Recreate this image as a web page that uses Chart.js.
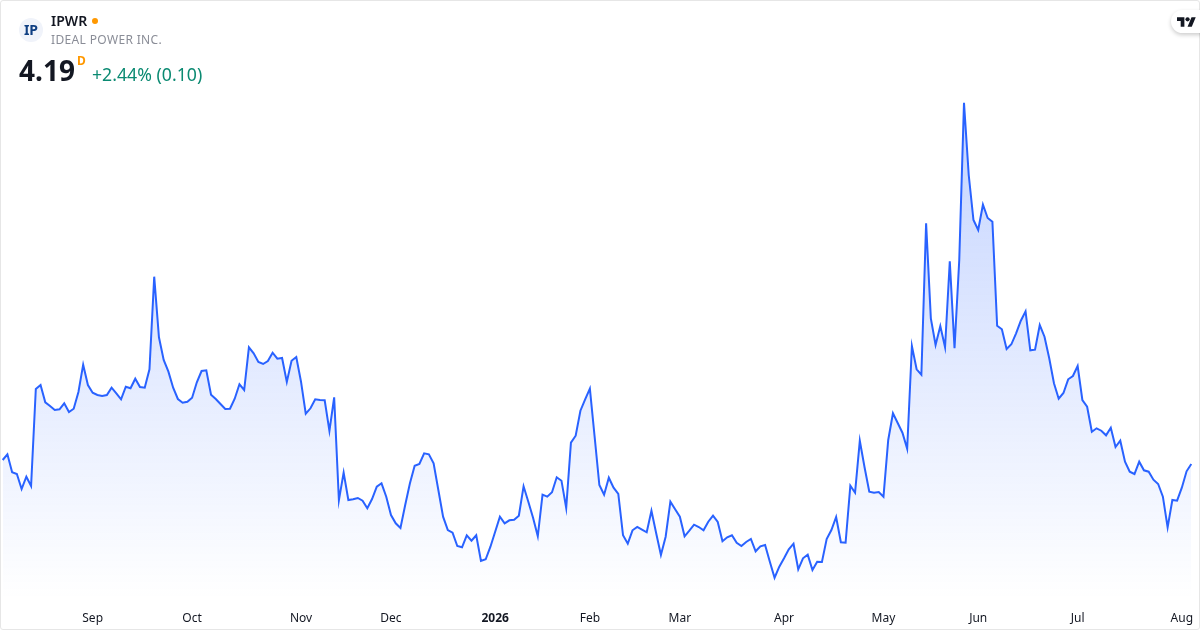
<!DOCTYPE html>
<html>
<head>
<meta charset="utf-8">
<script src="https://cdn.jsdelivr.net/npm/chart.js@4"></script>
<style>
html,body{margin:0;padding:0;background:#fff;}
#wrap{position:relative;width:1200px;height:630px;overflow:hidden;font-family:"Noto Sans",sans-serif;}
canvas{position:absolute;left:0;top:0;}
#frame{position:absolute;left:0;top:0;width:1198px;height:628px;border:1px solid #e6e6e6;border-radius:3px;pointer-events:none;}
.t{position:absolute;white-space:nowrap;line-height:1;}
#logo{position:absolute;left:19px;top:18px;width:24px;height:24px;border-radius:50%;background:#f0f3fa;color:#0f3f82;font-weight:700;font-size:14px;line-height:24px;text-align:center;}
#dot{position:absolute;left:92px;top:18px;width:6px;height:6px;border-radius:50%;background:#ff9800;}
#pill{position:absolute;left:1171px;top:10px;width:40px;height:23px;border-radius:12px;background:#fff;box-shadow:0 2px 4px rgba(0,0,0,.2);}
#tv{position:absolute;left:1177px;top:15px;}
</style>
</head>
<body>
<div id="wrap">
<canvas id="c" width="1200" height="630"></canvas>
<div id="frame"></div>
<div id="logo">IP</div>
<div class="t" style="left:51px;top:14px;font-size:14px;font-weight:600;color:#131722;">IPWR</div>
<div id="dot"></div>
<div class="t" style="left:51px;top:34px;font-size:12px;color:#8a8d97;letter-spacing:.35px;">IDEAL POWER INC.</div>
<div class="t" style="left:19px;top:56px;font-size:28px;font-weight:700;color:#131722;">4.19</div>
<div class="t" style="left:77px;top:55px;font-size:12px;font-weight:700;color:#ff9800;">D</div>
<div class="t" style="left:92px;top:66px;font-size:17.7px;color:#0b8a72;">+2.44% (0.10)</div>
<div id="pill"></div>
<svg id="tv" width="19" height="15" viewBox="0 0 36 28"><path fill="#131722" d="M14 22H7V11H0V4h14v18zM28 22h-8l7.5-18h8L28 22z"/><circle fill="#131722" cx="20" cy="8" r="4"/></svg>
</div>
<script>
const closes = [4.23,4.287,4.107,4.09,3.94,4.063,3.97,4.94,4.98,4.807,4.77,4.73,4.737,4.797,4.71,4.743,4.91,5.183,4.98,4.903,
4.88,4.87,4.88,4.953,4.897,4.837,4.963,4.947,5.043,4.96,4.953,5.137,6.063,5.457,5.23,5.113,4.953,4.84,4.803,4.813,
4.853,5.007,5.12,5.127,4.883,4.84,4.79,4.74,4.743,4.843,4.987,4.93,5.357,5.297,5.21,5.19,5.22,5.303,5.243,5.25,
5.01,5.223,5.26,5.013,4.693,4.747,4.837,4.83,4.827,4.52,4.857,3.827,4.103,3.83,3.837,3.85,3.823,3.747,3.84,3.963,
3.997,3.863,3.68,3.597,3.55,3.78,3.997,4.173,4.19,4.297,4.287,4.197,3.93,3.663,3.53,3.503,3.37,3.357,3.477,3.423,
3.477,3.22,3.237,3.363,3.513,3.663,3.597,3.627,3.633,3.673,3.967,3.813,3.653,3.467,3.883,3.863,3.907,4.057,4.023,3.75,
4.403,4.473,4.723,4.837,4.943,4.463,3.98,3.883,4.053,3.953,3.89,3.477,3.393,3.527,3.56,3.533,3.507,3.723,3.497,3.28,
3.463,3.813,3.737,3.663,3.467,3.523,3.583,3.56,3.527,3.613,3.673,3.61,3.417,3.457,3.477,3.403,3.37,3.41,3.44,3.317,
3.367,3.38,3.213,3.053,3.163,3.247,3.337,3.393,3.137,3.247,3.283,3.13,3.213,3.21,3.44,3.53,3.66,3.407,3.403,3.973,
3.903,4.423,4.157,3.913,3.903,3.91,3.863,4.43,4.697,4.60,4.503,4.343,5.37,5.137,5.083,6.597,5.647,5.38,5.57,5.357,
6.217,5.347,6.23,7.803,7.08,6.63,6.53,6.783,6.65,6.613,5.573,5.537,5.34,5.387,5.497,5.623,5.717,5.327,5.333,5.58,
5.463,5.247,4.997,4.843,4.90,5.037,5.07,5.17,4.83,4.763,4.513,4.547,4.523,4.477,4.553,4.36,4.423,4.213,4.113,4.09,
4.213,4.127,4.113,4.033,3.99,3.863,3.557,3.83,3.823,3.953,4.117,4.19];
const tickNames = ["Sep","Oct","Nov","Dec","2026","Feb","Mar","Apr","May","Jun","Jul","Aug"];
const tickSessions = [19,40,63,82,104,124,143,165,186,206,227,249];
const categories = closes.map((_, i) => {
  const k = tickSessions.indexOf(i);
  return k >= 0 ? tickNames[k] : "";
});
const axisMin = 2.83, axisMax = 8.83;

new Chart(document.getElementById("c"), {
  type: "line",
  data: {
    labels: categories,
    datasets: [{
      data: closes,
      borderColor: "#2962ff",
      borderWidth: 2,
      pointRadius: 0,
      tension: 0,
      fill: "start",
      backgroundColor: (ctx) => {
        const { chart } = ctx;
        if (!chart.chartArea) return "rgba(41,98,255,.1)";
        const top = chart.scales.y.getPixelForValue(Math.max(...closes));
        const g = chart.ctx.createLinearGradient(0, top, 0, chart.chartArea.bottom);
        g.addColorStop(0, "rgba(41,98,255,0.28)");
        g.addColorStop(1, "rgba(41,98,255,0)");
        return g;
      }
    }]
  },
  options: {
    responsive: false,
    devicePixelRatio: 1,
    animation: false,
    layout: { padding: { left: 2.67, right: 8.7, top: 0, bottom: 0 } },
    plugins: { legend: { display: false }, tooltip: { enabled: false } },
    scales: {
      x: {
        type: "category",
        offset: false,
        grid: { display: false, drawTicks: false },
        border: { display: false },
        afterFit: (s) => { s.height = 30; s.paddingLeft = 0; s.paddingRight = 0; },
        ticks: {
          autoSkip: false,
          maxRotation: 0,
          minRotation: 0,
          padding: 11,
          color: "#131722",
          font: (c) => ({
            family: '"Noto Sans", sans-serif',
            size: 12,
            weight: c.tick && c.tick.label === "2026" ? "700" : "400"
          })
        }
      },
      y: { display: false, min: axisMin, max: axisMax }
    }
  }
});
</script>
</body>
</html>
